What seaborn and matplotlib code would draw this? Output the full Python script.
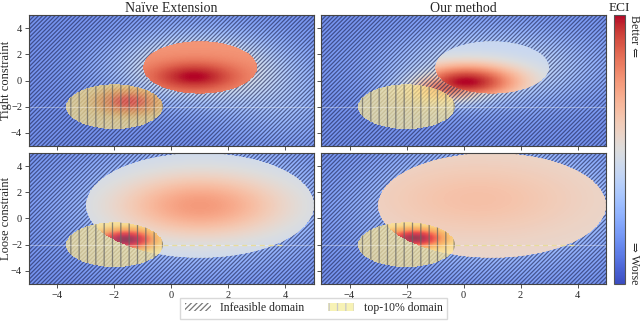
import numpy as np
import matplotlib
matplotlib.use("Agg")
import matplotlib.pyplot as plt
from matplotlib.patches import Patch, PathPatch, Circle
from matplotlib.path import Path
from matplotlib.colors import Normalize
from matplotlib.cm import ScalarMappable
import seaborn as sns

sns.set_theme(style="ticks")
plt.rcParams['font.family'] = ['Liberation Serif', 'DejaVu Serif']
plt.rcParams['hatch.linewidth'] = 0.9


# labels and axes
col_titles = ['Naïve Extension', 'Our method']
row_labels = ['Tight constraint', 'Loose constraint']
ticks = [-4, -2, 0, 2, 4]
lims = [-5, 5]

# feasible domain: circle around (1, 1), radius per row
feas_center = [1.0, 1.0]
feas_radius = [2.0, 4.0]

# top-10% domain: circle around (-2, -2)
top_center = [-2.0, -2.0]
top_radius = 1.7

# ECI field, outside the feasible domain: base + bumps (cx, cy, sx, sy, amp)
out_base = [[0.14, 0.14], [0.13, 0.13]]
out_naive_tight = [(1.0, 1.0, 2.0, 1.8, 0.46), (4.0, -2.0, 1.5, 2.0, 0.12)]
out_ours_tight = [(1.0, 1.0, 2.4, 1.9, 0.32), (-0.6, -0.6, 1.0, 0.8, 0.55)]
out_naive_loose = [(1.0, 1.0, 3.0, 3.0, 0.32)]
out_ours_loose = [(1.0, 1.0, 3.0, 3.0, 0.32)]

# ECI field inside the feasible domain
in_base = [[0.76, 0.42], [0.42, 0.54]]
in_naive_tight = [(0.8, 0.3, 1.1, 0.8, 0.24)]
in_ours_tight = [(0.1, -0.1, 1.4, 1.0, 0.58)]
in_naive_loose = [(1.0, 1.0, 2.2, 1.8, 0.33)]
in_ours_loose = [(0.5, 1.5, 2.5, 2.0, 0.10)]

# top-10% overlay (YlOrRd), peaks only count inside feasible domain on loose row
top_base = [[0.18, 0.12], [0.15, 0.15]]
top_naive_tight = [(-1.5, -1.6, 0.8, 0.7, 0.45)]
top_ours_tight = [(-1.4, -1.2, 1.0, 0.8, 0.10)]
top_naive_loose = [(-1.6, -1.6, 0.7, 0.55, 0.85)]
top_ours_loose = [(-1.7, -1.5, 0.7, 0.5, 0.85)]
top_in_feasible = [False, True]

out_bumps = [[out_naive_tight, out_ours_tight], [out_naive_loose, out_ours_loose]]
in_bumps = [[in_naive_tight, in_ours_tight], [in_naive_loose, in_ours_loose]]
top_bumps = [[top_naive_tight, top_ours_tight], [top_naive_loose, top_ours_loose]]

cw = sns.color_palette("coolwarm", as_cmap=True)
ylorrd = sns.color_palette("YlOrRd", as_cmap=True)

xs = np.linspace(lims[0], lims[1], 500)
X, Y = np.meshgrid(xs, xs)


def field(base, bumps):
    z = np.full_like(X, base)
    for cx, cy, sx, sy, a in bumps:
        z += a * np.exp(-((X - cx) ** 2 / (2 * sx ** 2) + (Y - cy) ** 2 / (2 * sy ** 2)))
    return z


def outside_path(cx, cy, rad):
    # big box with a circular hole (opposite winding)
    t = np.linspace(0, 2 * np.pi, 240)[::-1]
    box = [(-8, -8), (8, -8), (8, 8), (-8, 8), (-8, -8)]
    ring = list(zip(cx + rad * np.cos(t), cy + rad * np.sin(t)))
    codes = [Path.MOVETO] + [Path.LINETO] * 3 + [Path.CLOSEPOLY]
    codes += [Path.MOVETO] + [Path.LINETO] * (len(ring) - 2) + [Path.CLOSEPOLY]
    return Path(box + ring, codes)


fig = plt.figure(figsize=(6.4, 3.25), dpi=100)
lefts = [0.0453, 0.5016]
bottoms = [0.5508, 0.1262]
w, h = 0.4453, 0.403

top_mask = (X - top_center[0]) ** 2 + (Y - top_center[1]) ** 2 <= top_radius ** 2

for r in range(2):
    feas = (X - feas_center[0]) ** 2 + (Y - feas_center[1]) ** 2 <= feas_radius[r] ** 2
    for c in range(2):
        ax = fig.add_axes([lefts[c], bottoms[r], w, h])
        z = np.where(feas, field(in_base[r][c], in_bumps[r][c]),
                     field(out_base[r][c], out_bumps[r][c]))
        ax.pcolormesh(X, Y, z, cmap=cw, vmin=0, vmax=1, shading='auto', rasterized=True)

        p = outside_path(feas_center[0], feas_center[1], feas_radius[r])
        ax.add_patch(PathPatch(p, facecolor='white', alpha=0.1, lw=0))
        ax.add_patch(PathPatch(p, facecolor='none', edgecolor=(0.1, 0.12, 0.3, 0.6),
                               hatch='////////', lw=0))

        tz = field(0, top_bumps[r][c])
        if top_in_feasible[r]:
            tz = tz * feas
        tz = np.ma.masked_where(~top_mask, tz + top_base[r][c])
        ax.pcolormesh(X, Y, tz, cmap=ylorrd, vmin=0, vmax=1, alpha=0.72,
                      shading='auto', rasterized=True)
        ax.add_patch(Circle(top_center, top_radius, facecolor='none',
                            edgecolor=(0.4, 0.4, 0.4, 0.75), hatch='||', lw=0))

        ax.axhline(-2, color='white', alpha=0.35, lw=0.8)
        if r == 1:
            ax.plot([-0.3, 4.0], [-2, -2], ls=(0, (4, 3)), color='#e8dc9a', lw=0.9)

        ax.set_xlim(lims)
        ax.set_ylim(lims)
        ax.set_xticks(ticks)
        ax.set_yticks(ticks)
        ax.tick_params(labelsize=7.5, length=3, width=0.6, color='#333333', pad=2,
                       labelbottom=(r == 1), labelleft=(c == 0))
        for s in ax.spines.values():
            s.set_color('#444444')
            s.set_linewidth(0.8)
        if r == 0:
            ax.set_title(col_titles[c], fontsize=10, pad=2)
        if c == 0:
            ax.set_ylabel(row_labels[r], fontsize=9)
            ax.yaxis.set_label_coords(-0.058, 0.5)

# colorbar
cax = fig.add_axes([0.959, 0.1262, 0.017, 0.827])
cb = fig.colorbar(ScalarMappable(norm=Normalize(0, 1), cmap=cw), cax=cax, ticks=[])
cb.outline.set_edgecolor('#555555')
cb.outline.set_linewidth(0.8)
cax.set_title('ECI', fontsize=9.5, pad=3)
cax.text(1.3, 1.0, 'Better ⇐', rotation=-90, va='top', ha='left',
         transform=cax.transAxes, fontsize=8.5)
cax.text(1.3, 0.0, '⇒ Worse', rotation=-90, va='bottom', ha='left',
         transform=cax.transAxes, fontsize=8.5)

# legend
handles = [Patch(facecolor='white', edgecolor='#777777', hatch='//////', lw=0),
           Patch(facecolor='#f7f2b5', edgecolor='#c8c8c8', hatch='||', lw=0)]
fig.legend(handles, ['Infeasible domain', 'top-10% domain'], loc='lower center',
           bbox_to_anchor=(0.49, 0.0), ncol=2, fontsize=8.5, frameon=True,
           fancybox=False, edgecolor='#d0d0d0', handlelength=2.2,
           columnspacing=2.0, borderpad=0.4)

fig.savefig('out.png', dpi=100)
